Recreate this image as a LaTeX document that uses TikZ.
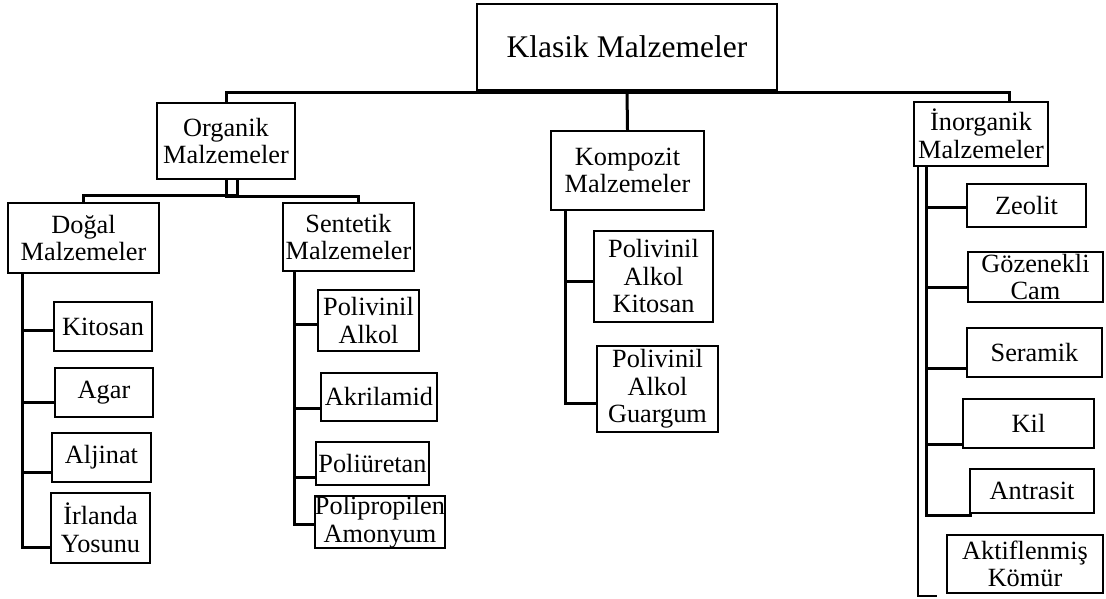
\documentclass[tikz,border=0pt]{standalone}
\usepackage{fontspec}
\setmainfont[Ligatures=NoCommon]{Liberation Serif}
\tikzset{
  box/.style={draw, line width=2.3pt, inner sep=0pt, align=center, font=\fontsize{26.3}{27.5}\selectfont},
  bigbox/.style={box, font=\fontsize{31.5}{33}\selectfont},
  conn/.style={line width=3pt, line cap=butt, line join=miter},
  thinconn/.style={line width=2pt}
}
\begin{document}
\begin{tikzpicture}[x=1pt,y=-1pt]
\useasboundingbox (0,0) rectangle (1106,599);
% level 0
\node[bigbox, minimum width=300, minimum height=86] (klasik) at (627,47) {Klasik Malzemeler};
% level 1
\node[box, minimum width=138, minimum height=76] (organik) at (226,141) {Organik\\Malzemeler};
\node[box, minimum width=153, minimum height=79] (kompozit) at (627.5,170.5) {Kompozit\\Malzemeler};
\node[box, minimum width=134, minimum height=64] (inorganik) at (981,134) {İnorganik\\Malzemeler};
% level 2
\node[box, minimum width=151, minimum height=70] (dogal) at (83.5,238) {Doğal\\Malzemeler};
\node[box, minimum width=131, minimum height=68] (sentetik) at (348.5,237) {Sentetik\\Malzemeler};
% dogal children
\node[box, minimum width=98, minimum height=49] (kitosan) at (103,326.5) {Kitosan};
\node[box, minimum width=98, minimum height=49] (agar) at (104,392.5) {Agar};
\node[box, minimum width=99, minimum height=49] (aljinat) at (101.5,457.5) {Aljinat};
\node[box, minimum width=99, minimum height=70] (irlanda) at (100.5,528) {İrlanda\\Yosunu};
% sentetik children
\node[box, minimum width=101, minimum height=61] (pva) at (368.5,320.5) {Polivinil\\Alkol};
\node[box, minimum width=116, minimum height=48] (akril) at (379,397) {Akrilamid};
\node[box, minimum width=113, minimum height=43] (poliur) at (372.5,463.5) {Poliüretan};
\node[box, minimum width=130, minimum height=38] (polipro) at (380,522) {Polipropilen\\Amonyum};
% kompozit children
\node[box, minimum width=119, minimum height=91] (pvak) at (653.5,276.5) {Polivinil\\Alkol\\Kitosan};
\node[box, minimum width=121, minimum height=86] (pvag) at (657.5,389) {Polivinil\\Alkol\\Guargum};
% inorganik children
\node[box, minimum width=119, minimum height=43] (zeolit) at (1026.5,205.5) {Zeolit};
\node[box, minimum width=135, minimum height=50] (gozen) at (1035.5,277) {Gözenekli\\Cam};
\node[box, minimum width=135, minimum height=49] (seramik) at (1034.5,352.5) {Seramik};
\node[box, minimum width=131, minimum height=49] (kil) at (1028.5,423.5) {Kil};
\node[box, minimum width=124, minimum height=44] (antrasit) at (1032,491) {Antrasit};
\node[box, minimum width=156, minimum height=58] (aktif) at (1025,564) {Aktiflenmiş\\Kömür};

% top bus
\coordinate (bus) at (627,93);
\draw[conn] (organik.north) |- (bus) -| ([xshift=28pt]inorganik.north);
\draw[conn] (klasik.south) -- (kompozit.north);
% organik split
\draw[conn] ([xshift=11pt]organik.south) -- ++(0,15) -| (dogal.north);
\draw[conn] (organik.south) -- ++(0,16) -| ([xshift=9.5pt]sentetik.north);
% dogal trunk
\coordinate (dt) at ([xshift=16pt]dogal.south west);
\draw[conn] (dt) |- ([yshift=-3.5pt]kitosan.west);
\draw[conn] (dt) |- ([yshift=-9.5pt]agar.west);
\draw[conn] (dt) |- ([yshift=-14.5pt]aljinat.west);
\draw[conn] (dt) |- ([yshift=-19pt]irlanda.west);
% sentetik trunk
\coordinate (st) at ([xshift=13pt]sentetik.south west);
\draw[conn] (st) |- ([yshift=-3.5pt]pva.west);
\draw[conn] (st) |- ([yshift=-11pt]akril.west);
\draw[conn] (st) |- ([yshift=-13.5pt]poliur.west);
\draw[conn] (st) |- ([yshift=-2pt]polipro.west);
% kompozit trunk
\coordinate (kt) at ([xshift=16pt]kompozit.south west);
\draw[conn] (kt) |- ([yshift=-4.5pt]pvak.west);
\draw[conn] (kt) |- ([yshift=-14pt]pvag.west);
% inorganik trunks
\coordinate (it) at ([xshift=14pt]inorganik.south west);
\coordinate (ot) at ([xshift=5pt]inorganik.south west);
\draw[conn] (it) |- ([yshift=-1.5pt]zeolit.west);
\draw[conn] (it) |- ([yshift=-10pt]gozen.west);
\draw[conn] (it) |- ([yshift=-15.5pt]seramik.west);
\draw[conn] (it) |- ([yshift=-20.5pt]kil.west);
\draw[conn] (it) |- ([shift={(3pt,-24pt)}]antrasit.west);
\coordinate (aktifend) at ([shift={(-9pt,-2pt)}]aktif.south west);
\draw[thinconn] (ot) |- (aktifend);
\end{tikzpicture}
\end{document}
